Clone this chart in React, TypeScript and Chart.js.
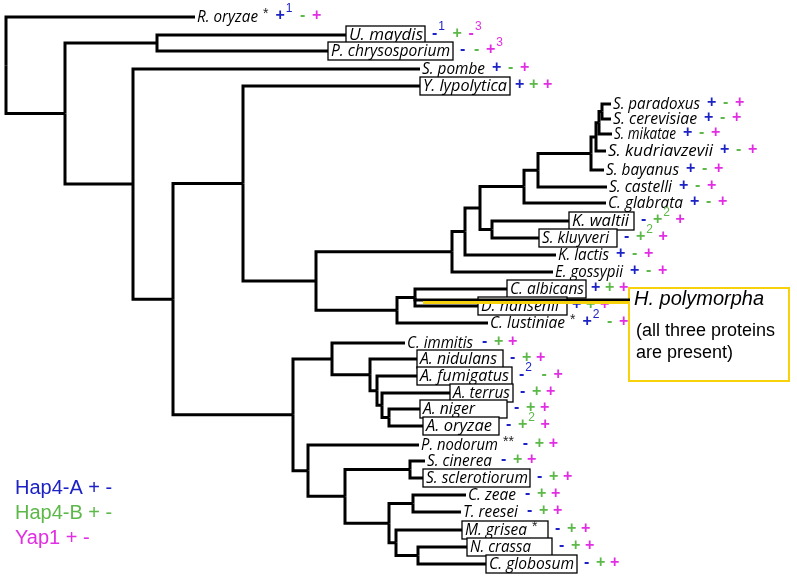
import { useEffect, useRef } from 'react';
import { Chart, registerables } from 'chart.js';
Chart.register(...registerables);

// ---- Leaves (taxa) ----
const leafNames = [
  'R. oryzae', 'U. maydis', 'P. chrysosporium', 'S. pombe', 'Y. lypolytica',
  'S. paradoxus', 'S. cerevisiae', 'S. mikatae', 'S. kudriavzevii', 'S. bayanus',
  'S. castelli', 'C. glabrata', 'K. waltii', 'S. kluyveri', 'K. lactis', 'E. gossypii',
  'C. albicans', 'H. polymorpha', 'D. hansenii', 'C. lustiniae',
  'C. immitis', 'A. nidulans', 'A. fumigatus', 'A. terrus', 'A. niger', 'A. oryzae',
  'P. nodorum', 'S. cinerea', 'S. sclerotiorum', 'C. zeae', 'T. reesei',
  'M. grisea', 'N. crassa', 'C. globosum',
];
// vertical position of each taxon (tree row)
const leafY = [
  17, 35, 51, 69, 86,
  104, 119, 134, 151, 170,
  187, 203, 221, 238, 255, 272,
  289, 300, 306, 323,
  343, 359, 376, 393, 409, 426,
  445, 461, 478, 495, 512,
  530, 547, 564,
];
// branch tip (end of terminal branch)
const leafTipX = [
  195, 346, 328, 420, 420,
  611, 611, 612, 606, 604,
  607, 606, 569, 539, 556, 553,
  507, 630, 478, 488,
  405, 417, 417, 450, 420, 423,
  419, 425, 423, 466, 461,
  462, 467, 486,
];
const leafBoxed = [
  false, true, true, false, true,
  false, false, false, false, false,
  false, false, true, true, false, false,
  true, false, true, false,
  false, true, true, true, true, true,
  false, false, true, false, false,
  true, true, true,
];
const leafSuffix = [
  '*', '', '', '', '',
  '', '', '', '', '',
  '', '', '', '', '', '',
  '', '', '', '*',
  '', '', '', '', '', '',
  '**', '', '', '', '',
  '*', '', '',
];
// presence (+) / absence (-) with optional footnote number
const hap4A = [
  '+1', '-1', '-', '+', '+',
  '+', '+', '+', '+', '+',
  '+', '+', '-', '-', '+', '+',
  '+', '', '+', '+2',
  '-', '-', '-2', '-', '-', '-',
  '-', '-', '-', '-', '-',
  '-', '-', '-',
];
const hap4B = [
  '-', '+', '-', '-', '+',
  '-', '-', '-', '-', '-',
  '-', '-', '+2', '+2', '-', '-',
  '+', '', '+', '-',
  '+', '+', '-', '+', '+', '+2',
  '+', '+', '+', '+', '+',
  '+', '+', '+',
];
const yap1 = [
  '+', '-3', '+3', '+', '+',
  '+', '+', '+', '+', '+',
  '+', '+', '+', '+', '+', '+',
  '+', '', '+', '+',
  '+', '+', '+', '+', '+', '+',
  '+', '+', '+', '+', '+',
  '+', '+', '+',
];

// ---- Internal nodes ----
const nodeIds = [
  'root', 'n1', 'nUP', 'nB', 'nC', 'nD', 'nE', 'nF', 'nG', 'nH2', 'nKW', 'nI2', 'nJ2',
  'nSac', 'nS3', 'nS2', 'nS1', 'nCand', 'nAH', 'nH', 'nI', 'nJ', 'nK', 'nL', 'nM',
  'nN', 'nO', 'nSS', 'nP', 'nCT', 'nQ', 'nNC',
];
const nodeX = [
  6, 65, 157, 133, 173, 243, 316, 452, 465, 480, 492, 524, 538,
  591, 596, 599, 602, 397, 415, 293, 332, 370, 377, 382, 389,
  308, 345, 410, 389, 413, 396, 418,
];
const nodeKids = [
  ['R. oryzae', 'n1'],
  ['nUP', 'nB'],
  ['U. maydis', 'P. chrysosporium'],
  ['S. pombe', 'nC'],
  ['nD', 'nH'],
  ['Y. lypolytica', 'nE'],
  ['nF', 'nCand'],
  ['nG', 'E. gossypii'],
  ['nH2', 'K. lactis'],
  ['nI2', 'nKW'],
  ['K. waltii', 'S. kluyveri'],
  ['nJ2', 'C. glabrata'],
  ['nSac', 'S. castelli'],
  ['nS3', 'S. bayanus'],
  ['nS2', 'S. kudriavzevii'],
  ['nS1', 'S. mikatae'],
  ['S. paradoxus', 'S. cerevisiae'],
  ['nAH', 'C. lustiniae'],
  ['C. albicans', 'H. polymorpha', 'D. hansenii'],
  ['nI', 'nN'],
  ['C. immitis', 'nJ'],
  ['A. nidulans', 'nK'],
  ['A. fumigatus', 'nL'],
  ['A. terrus', 'nM'],
  ['A. niger', 'A. oryzae'],
  ['P. nodorum', 'nO'],
  ['nSS', 'nP'],
  ['S. cinerea', 'S. sclerotiorum'],
  ['nCT', 'nQ'],
  ['C. zeae', 'T. reesei'],
  ['M. grisea', 'nNC'],
  ['N. crassa', 'C. globosum'],
];

const legendLabels = ['Hap4-A + -', 'Hap4-B + -', 'Yap1 + -'];
const highlightTaxon = 'H. polymorpha';
const highlightNote = ['(all three proteins', 'are present)'];

// ---- Label styling (widths of the typeset names and their boxes, px) ----
const labelWidthStyle = [
  61, 74, 119, 63, 84,
  87, 84, 62, 105, 73,
  63, 75, 57, 67, 51, 68,
  74, 0, 78, 75,
  66, 77, 89, 57, 52, 66,
  77, 65, 102, 48, 55,
  62, 61, 85,
];
const boxWidthStyle = [
  0, 79, 125, 0, 90,
  0, 0, 0, 0, 0,
  0, 0, 65, 78, 0, 0,
  79, 0, 89, 0,
  0, 86, 95, 63, 87, 76,
  0, 0, 107, 0, 0,
  86, 85, 91,
];

const BLUE = '#1c22c4';
const GREEN = '#5cb848';
const MAGENTA = '#e22ee2';
const GOLD = '#f7d10c';
const markerColors = [BLUE, GREEN, MAGENTA];
const LABEL_FONT = 'italic 16px "Open Sans"';
const MARK_FONT = 'bold 16px "Liberation Sans"';
const MARK_PITCH = 14;

function nodePos(id: string): { x: number; y: number } {
  const li = leafNames.indexOf(id);
  if (li >= 0) return { x: leafTipX[li], y: leafY[li] };
  const ni = nodeIds.indexOf(id);
  const kids = nodeKids[ni];
  const a = nodePos(kids[0]);
  const b = nodePos(kids[kids.length - 1]);
  return { x: nodeX[ni], y: (a.y + b.y) / 2 };
}

export default function App() {
  const ref = useRef<HTMLCanvasElement | null>(null);
  useEffect(() => {
    document.body.style.margin = '0';
    const canvas = ref.current!;
    const datasets: any[] = [];
    const hpIdx = leafNames.indexOf(highlightTaxon);
    const hpParent = nodeIds[nodeKids.findIndex((k) => k.includes(highlightTaxon))];
    datasets.push({
      data: [
        { x: nodePos(hpParent).x + 8, y: leafY[hpIdx] + 2.6 },
        { x: leafTipX[hpIdx], y: leafY[hpIdx] + 2.6 },
      ],
      borderColor: GOLD,
      borderWidth: 3,
      showLine: true,
      pointRadius: 0,
    });
    nodeIds.forEach((id, ni) => {
      const p = nodePos(id);
      nodeKids[ni].forEach((k) => {
        const c = nodePos(k);
        datasets.push({
          data: [
            { x: p.x, y: p.y },
            { x: p.x, y: c.y },
            { x: c.x, y: c.y },
          ],
          borderColor: '#000',
          borderWidth: 3,
          borderJoinStyle: 'miter',
          borderCapStyle: 'butt',
          showLine: true,
          pointRadius: 0,
          tension: 0,
        });
      });
    });

    const labelPlugin = {
      id: 'treeLabels',
      beforeDatasetsDraw(chart: any) {
        const ctx = chart.ctx as CanvasRenderingContext2D;
        const xs = chart.scales.x;
        const ys = chart.scales.y;
        ctx.save();
        ctx.textBaseline = 'middle';
        leafNames.forEach((name, i) => {
          if (name === highlightTaxon) return;
          const px = xs.getPixelForValue(leafTipX[i]);
          const py = ys.getPixelForValue(leafY[i]);
          ctx.font = LABEL_FONT;
          ctx.textAlign = 'left';
          const natural = ctx.measureText(name).width;
          const target = labelWidthStyle[i] || natural;
          const tx = leafBoxed[i] ? px + 3 : px + 2;
          let textEnd = tx + target;
          if (leafBoxed[i]) {
            const bw = boxWidthStyle[i];
            ctx.fillStyle = '#fff';
            ctx.fillRect(px, py - 9, bw, 18);
            ctx.strokeStyle = '#000';
            ctx.lineWidth = 1.3;
            ctx.strokeRect(px, py - 9, bw, 18);
          }
          ctx.fillStyle = '#000';
          ctx.save();
          ctx.translate(tx, py);
          ctx.scale(target / natural, 1);
          ctx.fillText(name, 0, 0);
          ctx.restore();
          if (leafSuffix[i]) {
            ctx.font = '14px "Liberation Sans"';
            ctx.fillStyle = '#222';
            ctx.fillText(leafSuffix[i], textEnd + 5, py - 3);
            textEnd += 5 + ctx.measureText(leafSuffix[i]).width;
          }
          let mx = leafBoxed[i] ? px + boxWidthStyle[i] + 5 : textEnd + 7;
          [hap4A[i], hap4B[i], yap1[i]].forEach((m, j) => {
            if (!m) return;
            const sym = m[0];
            const sup = m.slice(1);
            ctx.fillStyle = markerColors[j];
            ctx.font = MARK_FONT;
            ctx.textAlign = 'center';
            const cx = mx + 4.6;
            ctx.fillText(sym, cx, py - 1);
            const sw = ctx.measureText(sym).width;
            mx += MARK_PITCH;
            if (sup) {
              ctx.font = '12px "Liberation Sans"';
              ctx.textAlign = 'left';
              ctx.fillText(sup, cx + sw / 2 + 1, py - 8);
              mx += ctx.measureText(sup).width + 2;
            }
          });
          ctx.textAlign = 'left';
        });

        // highlighted taxon box
        const hx = xs.getPixelForValue(leafTipX[hpIdx]);
        const hy = ys.getPixelForValue(leafY[hpIdx]);
        ctx.strokeStyle = GOLD;
        ctx.lineWidth = 2;
        ctx.strokeRect(hx - 1, hy - 12, 160, 93);
        ctx.fillStyle = '#000';
        ctx.font = 'italic 20px "Liberation Sans"';
        ctx.fillText(highlightTaxon, hx + 4, hy - 1);
        ctx.font = '18px "Liberation Sans"';
        highlightNote.forEach((t, k) => ctx.fillText(t, hx + 6, hy + 31 + k * 22));

        // legend
        ctx.font = '20px "Liberation Sans"';
        legendLabels.forEach((t, k) => {
          ctx.fillStyle = markerColors[k];
          ctx.fillText(t, 15, 488 + k * 25);
        });
        ctx.restore();
      },
    };

    const chart = new Chart(canvas, {
      type: 'scatter',
      data: { datasets },
      options: {
        animation: false,
        responsive: false,
        maintainAspectRatio: false,
        layout: { padding: 0 },
        plugins: { legend: { display: false }, tooltip: { enabled: false } },
        scales: {
          x: { type: 'linear', min: 0, max: 797, display: false },
          y: { type: 'linear', min: 0, max: 578, reverse: true, display: false },
        },
      },
      plugins: [labelPlugin],
    });
    return () => chart.destroy();
  }, []);
  return (
    <div style={{ width: 797, height: 578, background: '#fff' }}>
      <canvas ref={ref} width={797} height={578} />
    </div>
  );
}
